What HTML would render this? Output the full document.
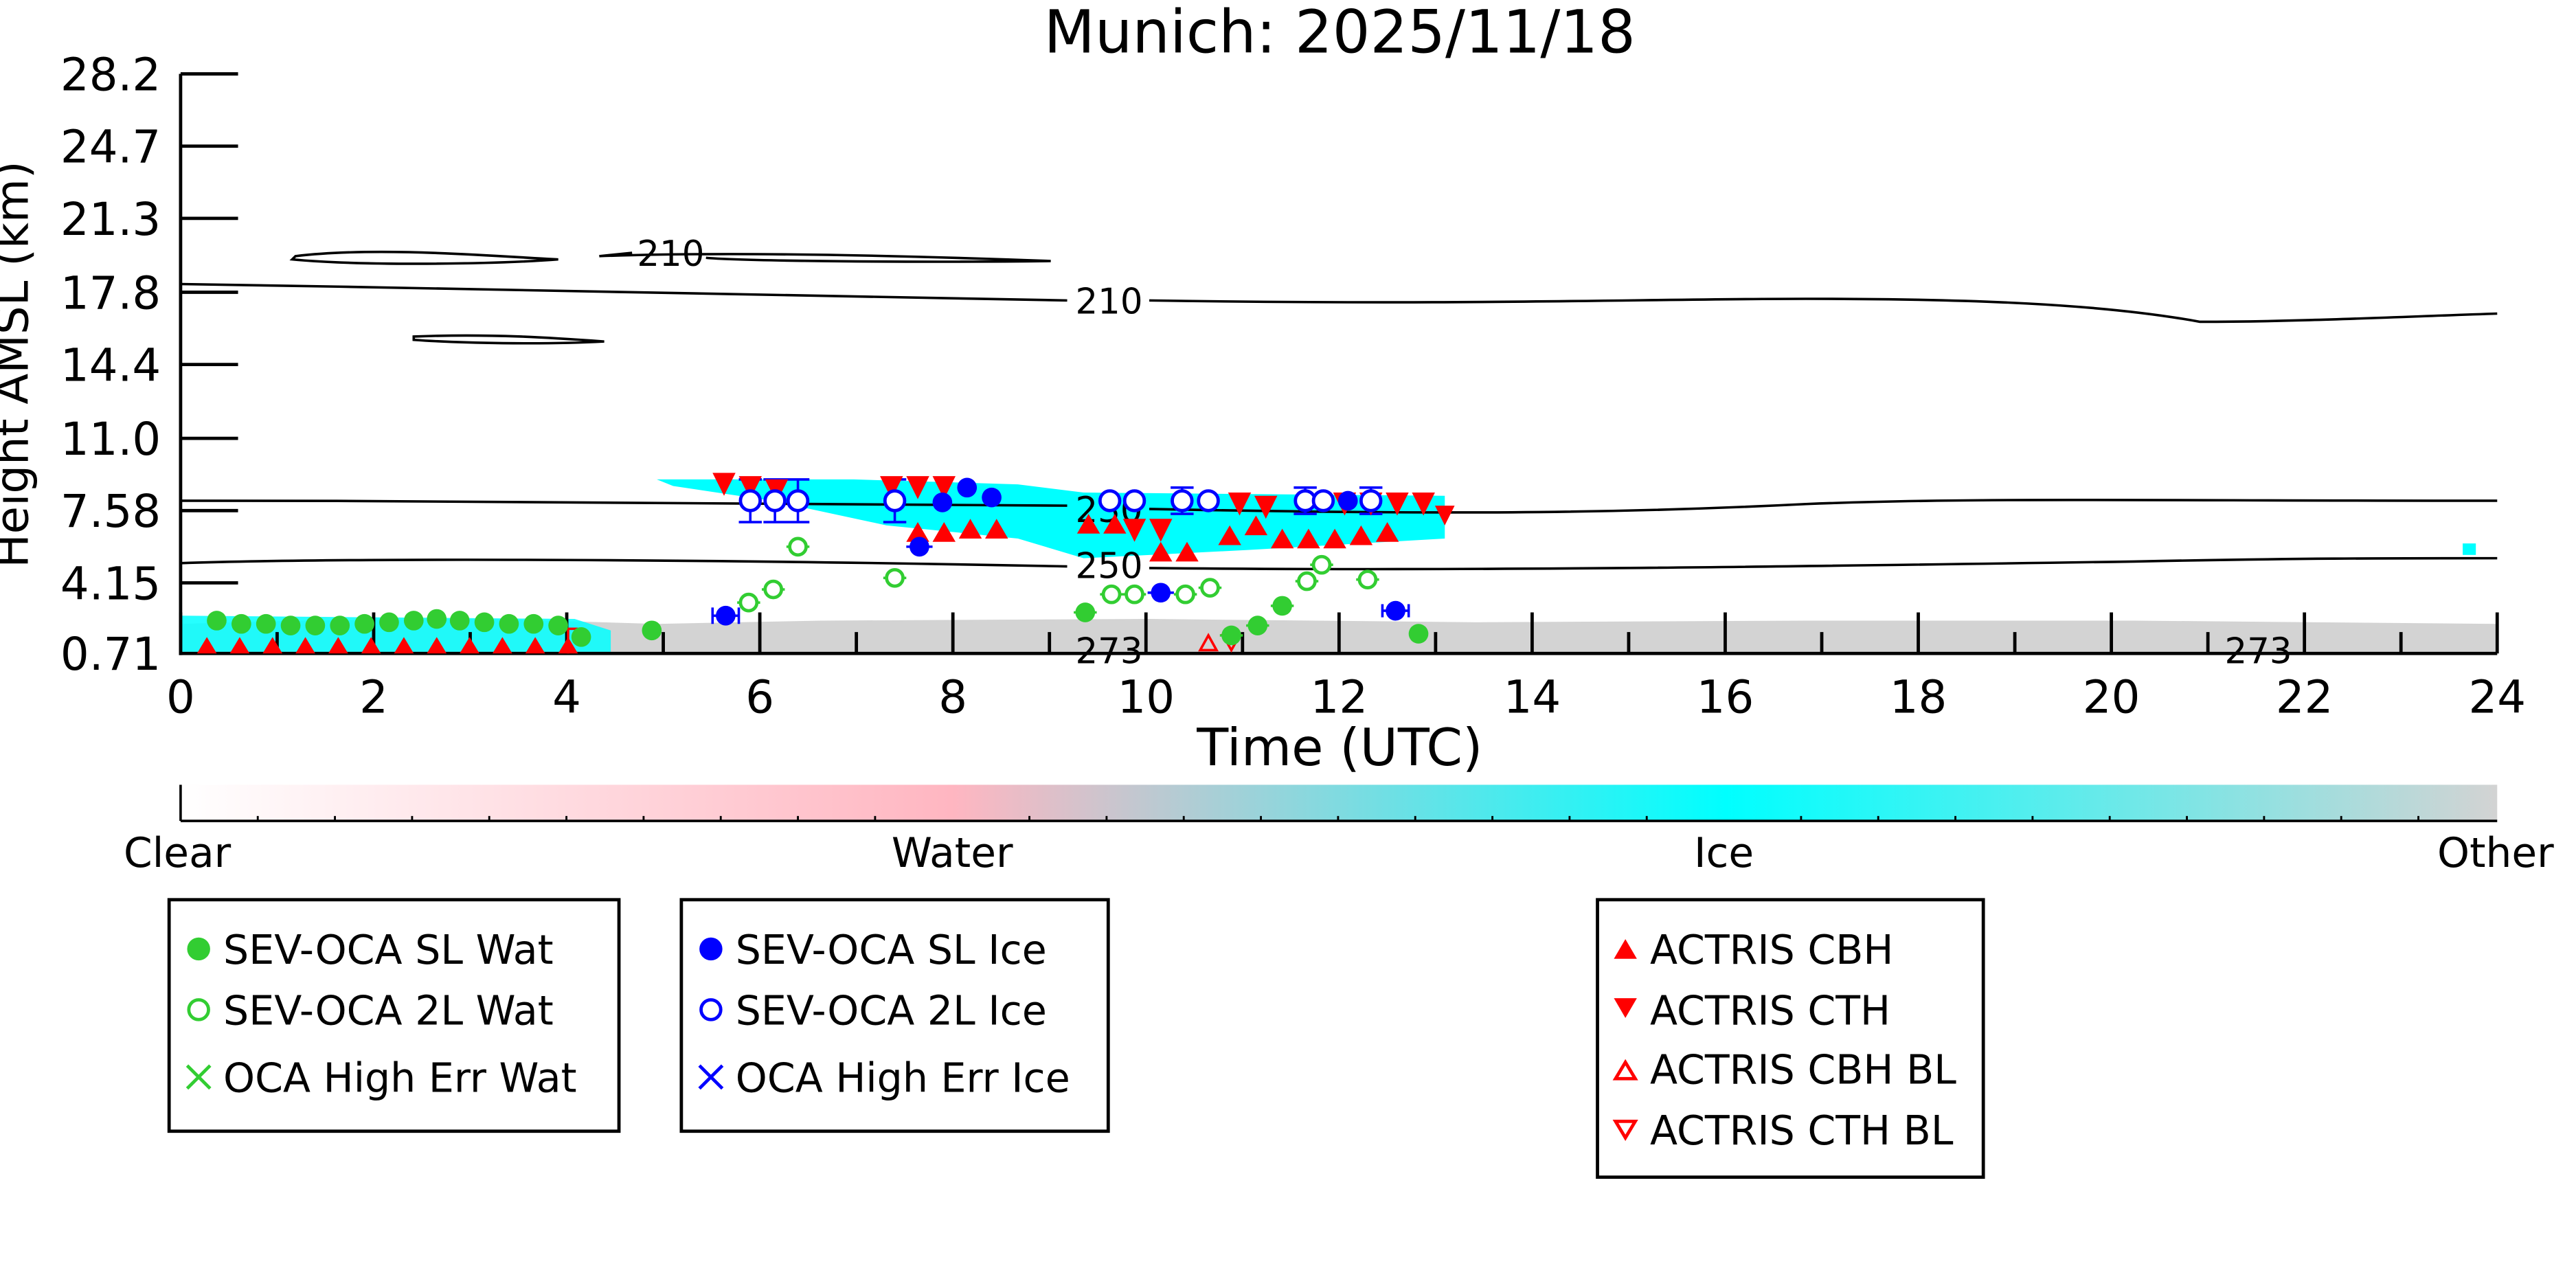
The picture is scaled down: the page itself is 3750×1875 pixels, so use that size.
<!DOCTYPE html>
<html><head><meta charset="utf-8"><style>
html,body{margin:0;padding:0;background:#fff;}
svg{display:block;}
text{font-family:"DejaVu Sans","Liberation Sans",sans-serif;fill:#000;}
</style></head><body>
<svg width="3750" height="1875" viewBox="0 0 1569 784.5" xmlns="http://www.w3.org/2000/svg">
<defs>
<linearGradient id="cb" x1="0" x2="1" y1="0" y2="0">
<stop offset="0" stop-color="#ffffff"/>
<stop offset="0.333" stop-color="#ffb6c1"/>
<stop offset="0.667" stop-color="#00ffff"/>
<stop offset="1" stop-color="#d3d3d3"/>
</linearGradient>
</defs>
<text x="816" y="32" font-size="36" text-anchor="middle">Munich: 2025/11/18</text>

<path d="M110 380 L180 378 L300 377 L400 380 L500 378 L700 377 L900 379 L1100 378 L1300 378 L1521 380 L1521 398 L110 398Z" fill="#d3d3d3"/>
<path d="M110 375 L350 377 L372 384 L372 397 L110 397Z" fill="#00ffff" opacity="0.85"/>
<path d="M400 292 L520 292 L620 295 L660 300 L880 302 L880 328 L760 335 L660 340 L620 328 L540 320 L470 305 L410 296Z" fill="#00ffff"/>
<rect x="1500" y="331" width="8" height="7" fill="#00ffff"/>

<g fill="none" stroke="#000" stroke-width="1.5">
<path d="M110 173 C300 176 500 180 650 183 M700 183 C900 186 1000 182 1100 182 C1200 182 1280 185 1340 196 C1400 196 1460 193 1521 191"/>
<path d="M180 156 C230 150 300 156 340 158 C300 161 220 162 178 158Z"/>
<path d="M365 156 C450 153 560 156 640 159 C560 160 450 159 430 157 M365 156 L385 154"/>
<path d="M252 205 C300 203 340 206 368 208 C330 210 280 209 252 207Z"/>
<path d="M110 305 C300 305 500 306 650 308 M700 310 C900 314 1000 312 1100 307 C1200 303 1300 305 1521 305"/>
<path d="M110 343 C200 340 400 340 650 345 M700 346 C900 348 1100 345 1300 342 C1400 340 1450 340 1521 340"/>
</g>
<g font-size="21.5">
<text x="388" y="162">210</text>
<text x="655" y="191">210</text>
<text x="655" y="318">230</text>
<text x="655" y="352">250</text>
<text x="655" y="404">273</text>
<text x="1355" y="404">273</text>
</g>

<g stroke="#000" stroke-width="2" fill="none">
<line x1="110" y1="45" x2="110" y2="399"/>
<line x1="109" y1="398" x2="1521" y2="398"/>
<line x1="110" y1="45" x2="145" y2="45"/><line x1="110" y1="89" x2="145" y2="89"/>
<line x1="110" y1="133" x2="145" y2="133"/><line x1="110" y1="178" x2="145" y2="178"/>
<line x1="110" y1="222" x2="145" y2="222"/><line x1="110" y1="267" x2="145" y2="267"/>
<line x1="110" y1="311" x2="145" y2="311"/><line x1="110" y1="355" x2="145" y2="355"/>
</g>
<g stroke="#000" stroke-width="2">
<path d="M110 398v-25M227.6 398v-25M345.2 398v-25M462.8 398v-25M580.4 398v-25M698 398v-25M815.6 398v-25M933.2 398v-25M1050.8 398v-25M1168.4 398v-25M1286 398v-25M1403.6 398v-25M1521 398v-25"/>
<path d="M168.8 398v-13M286.4 398v-13M404 398v-13M521.6 398v-13M639.2 398v-13M756.8 398v-13M874.4 398v-13M992 398v-13M1109.6 398v-13M1227.2 398v-13M1344.8 398v-13M1462.4 398v-13"/>
</g>
<g font-size="27.5" text-anchor="end">
<text x="98" y="55">28.2</text><text x="98" y="99">24.7</text><text x="98" y="143">21.3</text>
<text x="98" y="188">17.8</text><text x="98" y="232">14.4</text><text x="98" y="277">11.0</text>
<text x="98" y="321">7.58</text><text x="98" y="365">4.15</text><text x="98" y="408">0.71</text>
</g>
<g font-size="27.5" text-anchor="middle">
<text x="110" y="434">0</text><text x="227.6" y="434">2</text><text x="345.2" y="434">4</text>
<text x="462.8" y="434">6</text><text x="580.4" y="434">8</text><text x="698" y="434">10</text>
<text x="815.6" y="434">12</text><text x="933.2" y="434">14</text><text x="1050.8" y="434">16</text>
<text x="1168.4" y="434">18</text><text x="1286" y="434">20</text><text x="1403.6" y="434">22</text>
<text x="1521" y="434">24</text>
<text x="816" y="466" font-size="31.5">Time (UTC)</text>
<text transform="translate(17 222) rotate(-90)" font-size="27.5">Height AMSL (km)</text>
</g>

<g stroke="#0000ff" stroke-width="1.5" fill="none">
<path d="M457 292v26M450 292h14M450 318h14M472 292v26M465 292h14M465 318h14M486 292v26M479 292h14M479 318h14M545 292v26M538 292h14M538 318h14M720 297v16M713 297h14M713 313h14M795 297v16M788 297h14M788 313h14M835 297v16M828 297h14M828 313h14"/>
<path d="M434 375h16M434 370v10M450 370v10M842 372h16M842 368v8M858 368v8M699 361h16M552 333h16"/>
</g>
<g stroke="#32cd32" stroke-width="1.5" fill="none">
<path d="M449 367h14M464 359h14M479 333h14M538 352h14M654 373h14M670 362h14M684 362h14M715 362h14M730 358h14M774 369h14M789 354h14M798 344h14M826 353h14M743 387h14M759 381h14"/>
</g>
<g stroke="#ff0000" stroke-width="1.5" fill="none">
<path d="M346 383v15M340 383h12"/>
</g>

<g fill="#ff0000">
<path d="M120 398l6-10 6 10zM140 398l6-10 6 10zM160 398l6-10 6 10zM180 398l6-10 6 10zM200 398l6-10 6 10zM220 398l6-10 6 10zM240 398l6-10 6 10zM260 398l6-10 6 10zM280 398l6-10 6 10zM300 398l6-10 6 10zM320 398l6-10 6 10zM340 398l6-10 6 10z"/>
<path d="M434 288h14l-7 14zM450 290h14l-7 14zM466 292h14l-7 14zM536 290h14l-7 14zM552 290h14l-7 14zM568 290h14l-7 14z"/>
<path d="M552 330l7-12 7 12zM568 330l7-12 7 12zM584 328l7-12 7 12zM600 328l7-12 7 12zM656 325l7-12 7 12zM672 325l7-12 7 12zM700 342l7-12 7 12zM716 342l7-12 7 12zM742 332l7-12 7 12zM758 326l7-12 7 12zM774 334l7-12 7 12zM790 334l7-12 7 12zM806 334l7-12 7 12zM822 332l7-12 7 12zM838 330l7-12 7 12z"/>
<path d="M684 316h14l-7 14zM700 316h14l-7 14zM748 300h14l-7 14zM764 302h14l-7 14zM812 300h14l-7 14zM828 300h14l-7 14zM844 300h14l-7 14zM860 300h14l-7 14zM874 308h12l-6 12z"/>
</g>
<g fill="none" stroke="#ff0000" stroke-width="1.5">
<path d="M731 396l5-9 5 9zM745 387h10l-5 9z"/>
</g>
<g fill="#32cd32">
<circle cx="132" cy="378" r="6"/><circle cx="147" cy="380" r="6"/><circle cx="162" cy="380" r="6"/><circle cx="177" cy="381" r="6"/><circle cx="192" cy="381" r="6"/><circle cx="207" cy="381" r="6"/><circle cx="222" cy="380" r="6"/><circle cx="237" cy="379" r="6"/><circle cx="252" cy="378" r="6"/><circle cx="266" cy="377" r="6"/><circle cx="280" cy="378" r="6"/><circle cx="295" cy="379" r="6"/><circle cx="310" cy="380" r="6"/><circle cx="325" cy="380" r="6"/><circle cx="340" cy="381" r="6"/><circle cx="354" cy="388" r="6"/><circle cx="397" cy="384" r="6"/>
<circle cx="661" cy="373" r="6"/><circle cx="750" cy="387" r="6"/><circle cx="766" cy="381" r="6"/><circle cx="781" cy="369" r="6"/><circle cx="864" cy="386" r="6"/>
</g>
<g fill="#fff" stroke="#32cd32" stroke-width="2">
<circle cx="456" cy="367" r="5"/><circle cx="471" cy="359" r="5"/><circle cx="486" cy="333" r="5"/><circle cx="545" cy="352" r="5"/><circle cx="677" cy="362" r="5"/><circle cx="691" cy="362" r="5"/><circle cx="722" cy="362" r="5"/><circle cx="737" cy="358" r="5"/><circle cx="796" cy="354" r="5"/><circle cx="805" cy="344" r="5"/><circle cx="833" cy="353" r="5"/>
</g>
<g fill="#0000ff">
<circle cx="442" cy="375" r="6"/><circle cx="560" cy="333" r="6"/><circle cx="574" cy="306" r="6"/><circle cx="589" cy="297" r="6"/><circle cx="604" cy="303" r="6"/><circle cx="707" cy="361" r="6"/><circle cx="821" cy="305" r="6"/><circle cx="850" cy="372" r="6"/>
</g>
<g fill="#fff" stroke="#0000ff" stroke-width="2">
<circle cx="457" cy="305" r="6"/><circle cx="472" cy="305" r="6"/><circle cx="486" cy="305" r="6"/><circle cx="545" cy="305" r="6"/><circle cx="676" cy="305" r="6"/><circle cx="691" cy="305" r="6"/><circle cx="720" cy="305" r="6"/><circle cx="736" cy="305" r="6"/><circle cx="795" cy="305" r="6"/><circle cx="806" cy="305" r="6"/><circle cx="835" cy="305" r="6"/>
</g>

<rect x="110" y="478" width="1411" height="22" fill="url(#cb)"/>
<line x1="110" y1="478" x2="110" y2="500" stroke="#000" stroke-width="1.5"/>
<line x1="110" y1="500" x2="1521" y2="500" stroke="#000" stroke-width="1.5"/>
<g stroke="#000" stroke-width="1.2">
<path d="M157 500v-3M204 500v-3M251 500v-3M298 500v-3M345 500v-3M392 500v-3M439 500v-3M486 500v-3M533 500v-3M627 500v-3M674 500v-3M721 500v-3M768 500v-3M815 500v-3M862 500v-3M909 500v-3M956 500v-3M1003 500v-3M1097 500v-3M1144 500v-3M1191 500v-3M1238 500v-3M1285 500v-3M1332 500v-3M1379 500v-3M1426 500v-3M1473 500v-3"/>
</g>
<g font-size="25" text-anchor="middle">
<text x="108" y="528">Clear</text><text x="580" y="528">Water</text><text x="1050" y="528">Ice</text><text x="1520" y="528">Other</text>
</g>

<g fill="none" stroke="#000" stroke-width="2">
<rect x="103" y="548" width="274" height="141"/>
<rect x="415" y="548" width="260" height="141"/>
<rect x="973" y="548" width="235" height="169"/>
</g>
<g font-size="24.5">
<circle cx="121" cy="578" r="7" fill="#32cd32"/><text x="136" y="587">SEV-OCA SL Wat</text>
<circle cx="121" cy="615" r="6" fill="none" stroke="#32cd32" stroke-width="2"/><text x="136" y="624">SEV-OCA 2L Wat</text>
<path d="M114 649l14 14M128 649l-14 14" stroke="#32cd32" stroke-width="2"/><text x="136" y="665">OCA High Err Wat</text>
<circle cx="433" cy="578" r="7" fill="#0000ff"/><text x="448" y="587">SEV-OCA SL Ice</text>
<circle cx="433" cy="615" r="6" fill="none" stroke="#0000ff" stroke-width="2"/><text x="448" y="624">SEV-OCA 2L Ice</text>
<path d="M426 649l14 14M440 649l-14 14" stroke="#0000ff" stroke-width="2"/><text x="448" y="665">OCA High Err Ice</text>
<path d="M983 584l7-12 7 12z" fill="#ff0000"/><text x="1005" y="587">ACTRIS CBH</text>
<path d="M983 608h14l-7 12z" fill="#ff0000"/><text x="1005" y="624">ACTRIS CTH</text>
<path d="M984 657l6-10 6 10z" fill="none" stroke="#ff0000" stroke-width="2"/><text x="1005" y="660">ACTRIS CBH BL</text>
<path d="M984 683h12l-6 10z" fill="none" stroke="#ff0000" stroke-width="2"/><text x="1005" y="697">ACTRIS CTH BL</text>
</g>
</svg>
</body></html>
